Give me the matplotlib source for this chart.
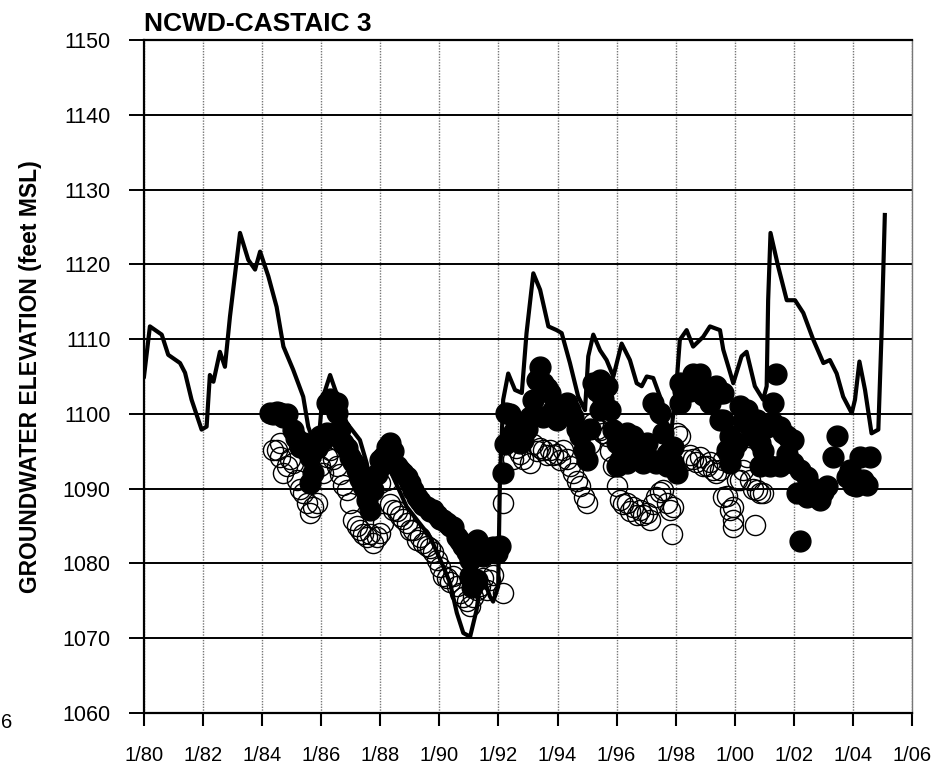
import matplotlib
matplotlib.use("Agg")
import matplotlib.pyplot as plt
import numpy as np

# water level hydrograph (solid line), decimal years
line_years = [1980.0, 1980.20, 1980.60, 1980.82, 1981.22, 1981.39, 1981.61, 1981.95, 1982.12,
              1982.23, 1982.35, 1982.57, 1982.74, 1982.91, 1983.25, 1983.53, 1983.76, 1983.93,
              1984.21, 1984.49, 1984.72, 1985.05, 1985.39, 1985.56, 1985.72, 1985.89, 1986.03,
              1986.30, 1986.86, 1987.31, 1987.54, 1987.71, 1988.33, 1988.89, 1989.68, 1990.13,
              1990.36, 1990.59, 1990.81, 1991.04, 1991.26, 1991.43, 1991.71, 1991.82, 1991.99,
              1992.05, 1992.16, 1992.33, 1992.56, 1992.79, 1992.95, 1993.18, 1993.41, 1993.69,
              1993.97, 1994.14, 1994.42, 1994.70, 1994.93, 1995.04, 1995.21, 1995.44, 1995.66,
              1995.89, 1996.17, 1996.45, 1996.68, 1996.85, 1997.02, 1997.24, 1997.47, 1997.69,
              1997.86, 1998.03, 1998.14, 1998.37, 1998.59, 1998.93, 1999.16, 1999.50, 1999.61,
              1999.95, 2000.23, 2000.40, 2000.68, 2000.96, 2001.08, 2001.13, 2001.21, 2001.47,
              2001.76, 2002.04, 2002.32, 2002.66, 2003.00, 2003.22, 2003.45, 2003.67, 2003.96,
              2004.07, 2004.22, 2004.41, 2004.63, 2004.86, 2004.97, 2005.08]
line_elev = [1105.0, 1111.7, 1110.6, 1107.9, 1106.8, 1105.5, 1101.9, 1097.9, 1098.3,
             1105.2, 1104.3, 1108.3, 1106.3, 1113.0, 1124.2, 1120.6, 1119.3, 1121.7,
             1118.4, 1114.3, 1109.0, 1105.9, 1102.3, 1098.3, 1096.5, 1095.2, 1101.9,
             1105.2, 1098.8, 1096.5, 1093.4, 1089.8, 1092.5, 1087.6, 1083.6, 1079.6,
             1077.4, 1073.4, 1070.7, 1070.2, 1073.8, 1078.7, 1075.6, 1074.9, 1076.9,
             1091.2, 1101.9, 1105.4, 1103.2, 1102.8, 1110.8, 1118.8, 1116.6, 1111.7,
             1111.2, 1110.8, 1106.8, 1102.3, 1100.5, 1107.7, 1110.6, 1108.5, 1107.2,
             1105.0, 1109.4, 1107.2, 1104.1, 1103.7, 1105.0, 1104.8, 1102.3, 1098.8,
             1097.9, 1104.1, 1109.9, 1111.2, 1109.0, 1110.3, 1111.7, 1111.2, 1108.6,
             1104.1, 1107.7, 1108.3, 1103.7, 1101.9, 1103.7, 1115.2, 1124.2, 1119.7,
             1115.2, 1115.2, 1113.5, 1109.9, 1106.8, 1107.2, 1105.4, 1102.3, 1100.1,
             1101.9, 1107.0, 1103.2, 1097.4, 1097.9, 1110.8, 1126.6]

# filled circles
filled_years = [1984.27, 1984.37, 1984.50, 1984.60, 1984.72, 1984.83, 1985.05, 1985.15, 1985.28,
                1985.40, 1985.50, 1985.62, 1985.73, 1985.62, 1985.85, 1985.96, 1986.07, 1986.18,
                1986.18, 1986.30, 1986.40, 1986.52, 1986.52, 1986.64, 1986.75, 1986.86, 1986.97,
                1987.09, 1987.20, 1987.31, 1987.42, 1987.54, 1987.65, 1987.76, 1987.88, 1987.99,
                1988.10, 1988.21, 1988.33, 1988.44, 1988.55, 1988.67, 1988.78, 1988.89, 1989.00,
                1989.12, 1989.23, 1989.34, 1989.45, 1989.57, 1989.68, 1989.80, 1989.91, 1990.02,
                1990.13, 1990.25, 1990.36, 1990.47, 1990.59, 1990.70, 1990.81, 1990.92, 1991.04,
                1991.04, 1991.09, 1991.15, 1991.26, 1991.26, 1991.37, 1991.49, 1991.60, 1991.71,
                1991.82, 1991.94, 1992.05, 1992.16, 1992.22, 1992.27, 1992.39, 1992.50, 1992.61,
                1992.73, 1992.84, 1992.95, 1993.07, 1993.18, 1993.29, 1993.41, 1993.52, 1993.52,
                1993.63, 1993.74, 1993.86, 1993.97, 1994.08, 1994.20, 1994.31, 1994.42, 1994.54,
                1994.65, 1994.76, 1994.88, 1994.99, 1995.10, 1995.21, 1995.33, 1995.44, 1995.44,
                1995.55, 1995.66, 1995.77, 1995.89, 1996.00, 1996.00, 1996.11, 1996.22, 1996.34,
                1996.34, 1996.45, 1996.57, 1996.68, 1996.79, 1996.90, 1997.02, 1997.13, 1997.24,
                1997.35, 1997.47, 1997.58, 1997.69, 1997.69, 1997.80, 1997.92, 1997.92, 1998.03,
                1998.14, 1998.14, 1998.25, 1998.37, 1998.48, 1998.59, 1998.59, 1998.70, 1998.82,
                1998.93, 1999.05, 1999.16, 1999.27, 1999.37, 1999.50, 1999.50, 1999.61, 1999.61,
                1999.73, 1999.84, 1999.84, 1999.95, 2000.06, 2000.18, 2000.29, 2000.40, 2000.52,
                2000.63, 2000.74, 2000.85, 2000.85, 2000.96, 2001.08, 2001.19, 2001.30, 2001.30,
                2001.41, 2001.53, 2001.53, 2001.64, 2001.76, 2001.76, 2001.87, 2001.98, 2001.98,
                2002.09, 2002.21, 2002.21, 2002.32, 2002.43, 2002.43, 2002.54, 2002.66, 2002.77,
                2002.88, 2003.00, 2003.11, 2003.33, 2003.45, 2003.79, 2003.90, 2004.00, 2004.12,
                2004.24, 2004.35, 2004.46, 2004.58]
filled_elev = [1100.1, 1100.0, 1100.2, 1100.1, 1099.6, 1100.0, 1097.9, 1096.8, 1095.6,
               1096.1, 1095.2, 1094.3, 1092.1, 1090.8, 1095.5, 1097.0, 1096.5, 1097.4,
               1101.4, 1102.0, 1101.0, 1101.4, 1100.1, 1098.0, 1096.1, 1095.5, 1094.3,
               1093.5, 1092.5, 1091.3, 1090.3, 1088.5, 1087.2, 1089.8, 1092.0, 1093.8,
               1094.3, 1095.6, 1096.1, 1095.0, 1093.0, 1092.5, 1092.1, 1091.5, 1090.7,
               1089.8, 1088.9, 1088.3, 1087.8, 1087.6, 1087.0, 1087.2, 1086.5, 1086.0,
               1085.8, 1085.4, 1085.0, 1084.9, 1083.6, 1083.0, 1082.3, 1081.5, 1080.5,
               1078.3, 1076.9, 1082.5, 1083.1, 1077.8, 1082.0, 1081.0, 1081.4, 1082.0,
               1082.2, 1081.4, 1082.3, 1092.1, 1096.0, 1100.1, 1100.0, 1097.4, 1098.3,
               1096.1, 1096.5, 1098.0, 1099.6, 1101.9, 1104.5, 1106.3, 1104.1, 1099.6,
               1103.5, 1102.8, 1100.5, 1099.2, 1100.0, 1101.0, 1101.4, 1100.5, 1099.6,
               1098.0, 1097.0, 1095.2, 1093.9, 1098.0, 1104.1, 1103.0, 1104.5, 1100.5,
               1102.0, 1103.7, 1100.5, 1097.9, 1096.1, 1093.0, 1093.9, 1095.0, 1097.4,
               1093.4, 1096.0, 1097.0, 1095.2, 1094.0, 1093.4, 1096.1, 1094.0, 1101.4,
               1093.4, 1100.1, 1097.4, 1094.7, 1093.0, 1095.0, 1095.6, 1093.4, 1092.1,
               1101.4, 1104.1, 1103.0, 1104.0, 1103.0, 1105.4, 1103.2, 1104.0, 1105.4,
               1102.5, 1102.3, 1101.4, 1103.0, 1103.7, 1102.8, 1099.2, 1102.8, 1099.2,
               1095.2, 1097.0, 1093.4, 1095.0, 1096.1, 1101.0, 1099.0, 1100.5, 1098.3,
               1097.0, 1099.2, 1096.1, 1093.0, 1095.0, 1098.3, 1093.0, 1101.4, 1098.8,
               1105.3, 1098.3, 1093.0, 1097.5, 1097.0, 1094.7, 1096.5, 1096.5, 1093.4,
               1089.4, 1092.5, 1083.0, 1089.5, 1091.6, 1088.9, 1090.3, 1089.5, 1089.0,
               1088.5, 1089.5, 1090.3, 1094.3, 1097.0, 1091.6, 1092.5, 1090.5, 1090.3,
               1094.3, 1091.2, 1090.5, 1094.3]

# open circles
open_years = [1984.38, 1984.50, 1984.60, 1984.60, 1984.72, 1984.83, 1984.94, 1985.05, 1985.17,
              1985.28, 1985.39, 1985.51, 1985.62, 1985.73, 1985.85, 1985.96, 1986.07, 1986.18,
              1986.30, 1986.41, 1986.52, 1986.64, 1986.75, 1986.86, 1986.97, 1987.09, 1987.20,
              1987.31, 1987.42, 1987.54, 1987.65, 1987.76, 1987.88, 1987.99, 1988.10, 1988.21,
              1987.99, 1988.33, 1988.44, 1988.55, 1988.67, 1988.78, 1988.89, 1989.00, 1989.12,
              1989.23, 1989.34, 1989.45, 1989.57, 1989.68, 1989.80, 1989.91, 1990.02, 1990.13,
              1990.25, 1990.36, 1990.47, 1990.59, 1990.70, 1990.81, 1990.92, 1991.04, 1991.15,
              1991.26, 1991.37, 1991.49, 1991.60, 1991.71, 1991.82, 1992.16, 1992.16, 1992.50,
              1992.61, 1992.73, 1992.84, 1993.07, 1993.18, 1993.29, 1993.41, 1993.52, 1993.63,
              1993.74, 1993.86, 1993.97, 1994.08, 1994.20, 1994.31, 1994.42, 1994.54, 1994.65,
              1994.76, 1994.88, 1994.99, 1995.10, 1995.21, 1995.33, 1995.44, 1995.55, 1995.66,
              1995.77, 1995.89, 1996.00, 1996.11, 1996.22, 1996.34, 1996.45, 1996.57, 1996.68,
              1996.79, 1996.90, 1997.02, 1997.13, 1997.24, 1997.35, 1997.47, 1997.58, 1997.69,
              1997.81, 1997.86, 1997.92, 1998.03, 1998.14, 1998.37, 1998.48, 1998.59, 1998.70,
              1998.82, 1998.93, 1999.05, 1999.16, 1999.27, 1999.37, 1999.50, 1999.61, 1999.61,
              1999.73, 1999.84, 1999.95, 1999.95, 1999.95, 2000.06, 2000.18, 2000.29, 2000.40,
              2000.52, 2000.63, 2000.68, 2000.74, 2000.85, 2000.96]
open_elev = [1095.2, 1095.2, 1096.1, 1094.3, 1092.1, 1093.0, 1094.0, 1093.4, 1091.2,
             1090.0, 1089.4, 1088.1, 1086.7, 1087.5, 1088.1, 1093.0, 1092.1, 1094.3,
             1095.2, 1094.0, 1093.0, 1092.0, 1090.5, 1089.8, 1088.1, 1085.8, 1085.0,
             1084.5, 1084.0, 1083.6, 1084.0, 1082.7, 1083.5, 1084.1, 1085.4, 1091.2,
             1090.7, 1088.0, 1087.2, 1087.0, 1086.3, 1086.0, 1085.4, 1084.5, 1084.5,
             1083.1, 1083.6, 1082.8, 1082.3, 1082.0, 1081.5, 1080.5, 1079.5, 1078.3,
             1078.0, 1077.5, 1078.3, 1077.0, 1076.0, 1075.5, 1075.0, 1074.3, 1075.5,
             1076.5, 1077.0, 1078.0, 1076.5, 1077.8, 1078.5, 1076.0, 1088.1, 1094.0,
             1095.5, 1094.7, 1094.0, 1093.4, 1096.0, 1095.0, 1095.5, 1095.2, 1094.5,
             1095.2, 1094.5, 1094.7, 1093.9, 1095.2, 1094.0, 1093.0, 1092.1, 1091.0,
             1090.3, 1088.9, 1088.1, 1096.0, 1098.8, 1098.0, 1097.9, 1097.5, 1097.0,
             1095.0, 1093.0, 1090.3, 1088.5, 1088.0, 1088.1, 1087.0, 1087.6, 1086.5,
             1087.2, 1086.5, 1086.7, 1085.8, 1088.0, 1088.9, 1089.5, 1089.8, 1088.1,
             1087.2, 1084.0, 1087.6, 1097.4, 1097.0, 1093.9, 1094.5, 1094.0, 1093.5,
             1094.3, 1093.0, 1093.0, 1093.5, 1092.5, 1092.1, 1092.5, 1093.9, 1088.9,
             1089.0, 1087.2, 1085.8, 1087.6, 1084.9, 1091.2, 1091.2, 1092.5, 1094.3,
             1091.2, 1090.0, 1085.2, 1089.8, 1089.4, 1089.4]

tick_years = list(range(1980, 2007, 2))
tick_labels = ["1/80", "1/82", "1/84", "1/86", "1/88", "1/90", "1/92", "1/94",
               "1/96", "1/98", "1/00", "1/02", "1/04", "1/06"]

plt.rcParams["font.family"] = ["Liberation Sans", "DejaVu Sans"]

fig = plt.figure(figsize=(9.38, 7.66), dpi=100)
ax = fig.add_axes([144 / 938, 1 - 713 / 766, 768 / 938, 673 / 766])

ax.plot(open_years, open_elev, "o", ms=14.5, mfc="none", mec="black", mew=1.0, zorder=3)
ax.plot(filled_years, filled_elev, "o", ms=15, mfc="black", mec="black", zorder=4)
ax.plot(line_years, line_elev, "-", color="black", lw=3, zorder=5)

ax.set_xlim(1980, 2006)
ax.set_ylim(1060, 1150)
ax.set_xticks(tick_years)
ax.set_xticklabels(tick_labels)
ax.set_yticks(np.arange(1060, 1151, 10))

ax.yaxis.grid(True, color="black", lw=1.4, ls="-")
ax.xaxis.grid(True, color="#777777", lw=1.0, ls=(0, (1, 1)))
ax.set_axisbelow(True)

for s in ["left", "bottom", "top"]:
    ax.spines[s].set_color("black")
    ax.spines[s].set_linewidth(1.6)
ax.spines["right"].set_color("#777777")
ax.spines["right"].set_linestyle((0, (1, 1)))
ax.spines["right"].set_linewidth(1.0)

ax.tick_params(axis="x", direction="out", length=9, width=1.5, pad=15, labelsize=14.5)
ax.tick_params(axis="y", direction="out", length=11, width=1.4, pad=13, labelsize=15.5)

ax.set_ylabel("GROUNDWATER ELEVATION (feet MSL)", fontsize=16.5, fontweight="bold")
ax.yaxis.set_label_coords(-0.133, 0.5)

ax.text(0.0, 1.006, "NCWD-CASTAIC 3", transform=ax.transAxes, ha="left", va="bottom",
        fontsize=19, fontweight="bold")

# clipped label from neighbouring panel
fig.text(0.001, 1 - 723 / 766, "6", ha="left", va="center", fontsize=14.5)

fig.savefig("out.png", dpi=100)
